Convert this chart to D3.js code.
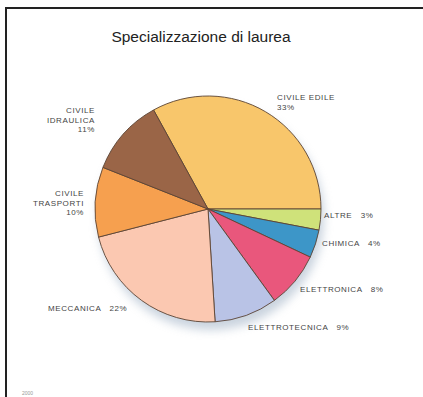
<!DOCTYPE html>
<html>
<head>
<meta charset="utf-8">
<script src="https://cdn.jsdelivr.net/npm/d3@7"></script>
<style>
  body { margin: 0; background: #fff; }
  svg { display: block; }
  .lbl { font-family: "Liberation Sans", Arial, sans-serif; font-size: 8px; letter-spacing: 0.6px; fill: #444; white-space: pre; }
</style>
</head>
<body>
<svg id="chart" width="423" height="397"></svg>
<script>
// data
const categories = ["CIVILE EDILE", "ALTRE", "CHIMICA", "ELETTRONICA", "ELETTROTECNICA", "MECCANICA", "CIVILE TRASPORTI", "CIVILE IDRAULICA"];
const values = [33, 3, 4, 8, 9, 22, 10, 11];
const colors = ["#f8c66b", "#cfe27a", "#3d96c8", "#e9577c", "#b9c3e6", "#fbc8b1", "#f6a04f", "#9a6547"];
// label lines, anchor and position for each slice
const labelLines = [
  ["CIVILE EDILE", "33%"], ["ALTRE   3%"], ["CHIMICA   4%"], ["ELETTRONICA   8%"],
  ["ELETTROTECNICA   9%"], ["MECCANICA   22%"], ["CIVILE", "TRASPORTI", "10%"], ["CIVILE", "IDRAULICA", "11%"]
];
const labelPos = [[277, 100, "start"], [324, 218, "start"], [322, 246, "start"], [300, 292, "start"],
  [248, 330, "start"], [48, 311, "start"], [84, 196, "end"], [95, 113, "end"]];

const svg = d3.select("#chart");
const cx = 208, cy = 209, r = 113;

// frame
svg.append("path")
  .attr("d", "M6,397V8H423")
  .attr("fill", "none")
  .attr("stroke", "#222")
  .attr("stroke-width", 2);

svg.append("text")
  .attr("x", 201).attr("y", 42)
  .attr("text-anchor", "middle")
  .attr("font-family", "Liberation Sans, Arial, sans-serif")
  .attr("font-size", 15.5)
  .attr("fill", "#222")
  .text("Specializzazione di laurea");

// soft shadow under the pie
const defs = svg.append("defs");
defs.append("filter").attr("id", "blur")
  .attr("x", "-20%").attr("y", "-20%").attr("width", "140%").attr("height", "140%")
  .append("feGaussianBlur").attr("stdDeviation", 5);
svg.append("circle")
  .attr("cx", cx + 3).attr("cy", cy + 8).attr("r", r)
  .attr("fill", "#9fb0c4").attr("opacity", 0.55)
  .attr("filter", "url(#blur)");

const start = -values[0] / 100 * 2 * Math.PI + Math.PI / 2;
const pie = d3.pie().sort(null).value(d => d)
  .startAngle(start).endAngle(start + 2 * Math.PI);
const arc = d3.arc().innerRadius(0).outerRadius(r);

const g = svg.append("g").attr("transform", `translate(${cx},${cy})`);
g.selectAll("path")
  .data(pie(values))
  .enter()
  .append("path")
  .attr("d", arc)
  .attr("fill", (d, i) => colors[i])
  .attr("stroke", "#5b4434")
  .attr("stroke-width", 0.9);

// labels
categories.forEach((c, i) => {
  const [x, y, anchor] = labelPos[i];
  const t = svg.append("text").attr("class", "lbl")
    .attr("x", x).attr("y", y).attr("text-anchor", anchor);
  labelLines[i].forEach((line, j) => {
    t.append("tspan").attr("x", x).attr("dy", j ? 9.5 : 0).text(line);
  });
});

// tiny source mark bottom left
svg.append("text")
  .attr("x", 22).attr("y", 395)
  .attr("font-family", "Liberation Sans, sans-serif")
  .attr("font-size", 5)
  .attr("fill", "#999")
  .text("2000");
</script>
</body>
</html>
